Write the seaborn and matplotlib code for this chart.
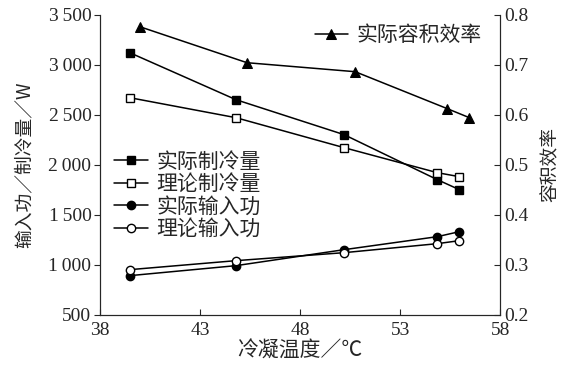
import numpy as np
import pandas as pd
import seaborn as sns
from matplotlib import pyplot as plt
from matplotlib.ticker import FuncFormatter

# condensing temperature (°C)
t_cool = [39.5, 44.8, 50.2, 54.85, 55.95]
t_eff = [40.0, 45.35, 50.75, 55.35, 56.45]

cool_actual = [3120, 2650, 2300, 1850, 1750]
cool_theory = [2670, 2470, 2170, 1920, 1880]
work_actual = [890, 990, 1150, 1280, 1330]
work_theory = [950, 1040, 1120, 1210, 1240]
vol_eff = [0.776, 0.704, 0.686, 0.612, 0.594]

sns.set_style("ticks")
plt.rcParams['font.family'] = ['Noto Sans CJK SC', 'DejaVu Sans']
num_font = 'Liberation Serif'

fig, ax = plt.subplots(figsize=(5.7, 3.68), dpi=100)
ax2 = ax.twinx()

series = [
    ('实际制冷量', cool_actual, 's', 'black'),
    ('理论制冷量', cool_theory, 's', 'white'),
    ('实际输入功', work_actual, 'o', 'black'),
    ('理论输入功', work_theory, 'o', 'white'),
]
for name, vals, mk, fc in series:
    sns.lineplot(x=t_cool, y=vals, ax=ax, color='black', lw=1.1, marker=mk,
                 markersize=6, markerfacecolor=fc, markeredgecolor='black',
                 markeredgewidth=1, label=name)

sns.lineplot(x=t_eff, y=vol_eff, ax=ax2, color='black', lw=1.1, marker='^',
             markersize=7, markerfacecolor='black', markeredgecolor='black',
             label='实际容积效率')

ax.set_xlim(38, 58)
ax.set_ylim(500, 3500)
ax2.set_ylim(0.2, 0.8)
ax.set_xticks([38, 43, 48, 53, 58])
ax.set_yticks(np.arange(500, 3501, 500))
ax2.set_yticks([0.2, 0.3, 0.4, 0.5, 0.6, 0.7, 0.8])
ax.yaxis.set_major_formatter(FuncFormatter(
    lambda v, p: f'{int(v):,}'.replace(',', '\u2009')))
ax2.yaxis.set_major_formatter(FuncFormatter(lambda v, p: f'{v:.1f}'))

for a in (ax, ax2):
    for lab in a.get_xticklabels() + a.get_yticklabels():
        lab.set_fontfamily(num_font)
        lab.set_fontsize(14)
ax.tick_params(axis='x', direction='in', length=4, pad=5)
ax.tick_params(axis='y', direction='out', length=4, pad=2)
ax2.tick_params(axis='y', direction='in', length=4, pad=3)

ax.spines['top'].set_visible(False)
ax2.spines['top'].set_visible(False)

ax.set_xlabel('冷凝温度／℃', fontsize=15, labelpad=1)
ax.set_ylabel('输入功／制冷量／W', fontsize=13.5, labelpad=10)
ax2.set_ylabel('容积效率', fontsize=13.5, labelpad=8)

leg1 = ax.legend(loc='upper left', bbox_to_anchor=(0.0, 0.595), frameon=False,
                 fontsize=15, handlelength=1.6, handletextpad=0.4,
                 labelspacing=0.02, borderaxespad=0.3)
leg2 = ax2.legend(loc='upper right', bbox_to_anchor=(1.0, 1.03), frameon=False,
                  fontsize=15, handlelength=1.6, handletextpad=0.4)

fig.subplots_adjust(left=0.175, right=0.878, top=0.96, bottom=0.145)
fig.savefig('out.png', dpi=100)
